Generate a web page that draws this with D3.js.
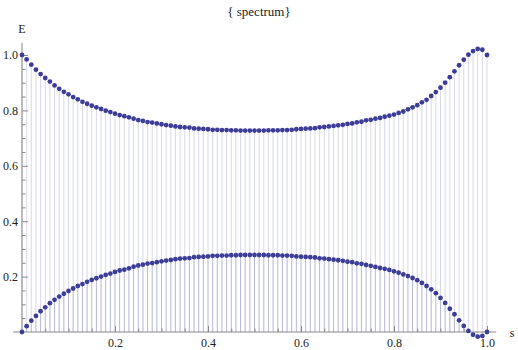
<!DOCTYPE html>
<html>
<head>
<meta charset="utf-8">
<script src="https://cdn.jsdelivr.net/npm/d3@7"></script>
<style>
  body { margin: 0; background: #fff; }
  svg { display: block; }
  text { font-family: "Liberation Serif", "Times New Roman", "DejaVu Serif", serif; }
  .tick text { font-size: 12px; fill: #222; }
  .tick line { stroke: #888; }
</style>
</head>
<body>
<script>
// s values: 0, 0.01, ..., 1.00
const sValues = d3.range(101).map(i => i / 100);

const lowerE = [
  0.000, 0.021, 0.041, 0.058, 0.075, 0.089, 0.104, 0.116, 0.128, 0.138,
  0.148, 0.157, 0.166, 0.173, 0.181, 0.188, 0.194, 0.200, 0.206, 0.211,
  0.217, 0.222, 0.225, 0.230, 0.236, 0.240, 0.243, 0.247, 0.249, 0.252,
  0.255, 0.258, 0.260, 0.263, 0.265, 0.266, 0.267, 0.270, 0.271, 0.272,
  0.273, 0.275, 0.275, 0.276, 0.276, 0.277, 0.277, 0.278, 0.278, 0.278,
  0.278, 0.278, 0.278, 0.277, 0.277, 0.277, 0.276, 0.276, 0.275, 0.273,
  0.272, 0.271, 0.270, 0.269, 0.266, 0.265, 0.263, 0.261, 0.259, 0.257,
  0.254, 0.252, 0.248, 0.246, 0.242, 0.239, 0.235, 0.231, 0.228, 0.224,
  0.219, 0.214, 0.208, 0.202, 0.195, 0.187, 0.177, 0.166, 0.154, 0.140,
  0.123, 0.105, 0.084, 0.064, 0.042, 0.022, 0.004, -0.010, -0.017, -0.014,
  0.000
];

const upperE = [
  1.000, 0.984, 0.965, 0.947, 0.931, 0.917, 0.904, 0.890, 0.878, 0.867,
  0.858, 0.848, 0.840, 0.831, 0.824, 0.817, 0.811, 0.805, 0.799, 0.794,
  0.788, 0.783, 0.779, 0.775, 0.770, 0.765, 0.762, 0.758, 0.756, 0.753,
  0.750, 0.747, 0.745, 0.742, 0.740, 0.739, 0.738, 0.735, 0.734, 0.733,
  0.732, 0.730, 0.730, 0.729, 0.729, 0.728, 0.728, 0.727, 0.727, 0.727,
  0.727, 0.727, 0.727, 0.728, 0.728, 0.728, 0.729, 0.729, 0.730, 0.732,
  0.733, 0.734, 0.735, 0.736, 0.739, 0.740, 0.742, 0.744, 0.746, 0.748,
  0.751, 0.753, 0.757, 0.759, 0.764, 0.766, 0.770, 0.773, 0.777, 0.781,
  0.785, 0.791, 0.796, 0.804, 0.811, 0.819, 0.829, 0.838, 0.852, 0.866,
  0.882, 0.900, 0.920, 0.941, 0.963, 0.983, 1.001, 1.014, 1.022, 1.019,
  1.000
];

const majorTicks = [0.2, 0.4, 0.6, 0.8, 1.0];
const minorTicks = d3.range(1, 21).map(i => i * 0.05).filter(v => Math.abs(v * 5 - Math.round(v * 5)) > 1e-6);

const width = 518, height = 350;
const dotColor = "#3d3d99";
const serif = "'Liberation Serif', 'Times New Roman', serif";

const svg = d3.select("body").append("svg")
  .attr("width", width)
  .attr("height", height);

const x = d3.scaleLinear().domain([0, 1]).range([22, 487]);
const y = d3.scaleLinear().domain([0, 1]).range([332, 55]);

const series = [upperE, lowerE];

// filling to axis
series.forEach(vals => {
  svg.append("g")
    .selectAll("line")
    .data(vals)
    .enter()
    .append("line")
    .attr("x1", (d, i) => x(sValues[i]))
    .attr("x2", (d, i) => x(sValues[i]))
    .attr("y1", y(0))
    .attr("y2", d => y(d))
    .attr("stroke", dotColor)
    .attr("stroke-opacity", 0.2)
    .attr("stroke-width", 1);
});

// axes
const axisColor = "#888";
svg.append("line")
  .attr("x1", x(-0.019)).attr("x2", x(1.02))
  .attr("y1", y(0)).attr("y2", y(0))
  .attr("stroke", axisColor);
svg.append("line")
  .attr("x1", x(0)).attr("x2", x(0))
  .attr("y1", y(0)).attr("y2", y(1.044))
  .attr("stroke", axisColor);

function styleAxis(g) {
  g.attr("font-family", serif);
  g.select(".domain").remove();
}

svg.append("g")
  .attr("transform", `translate(0,${y(0)})`)
  .call(d3.axisBottom(x).tickValues(majorTicks).tickSizeInner(-6).tickSizeOuter(0)
    .tickPadding(6).tickFormat(d3.format(".1f")))
  .call(styleAxis);

svg.append("g")
  .attr("transform", `translate(0,${y(0)})`)
  .call(d3.axisBottom(x).tickValues(minorTicks).tickSizeInner(-3.5).tickSizeOuter(0).tickFormat(""))
  .call(styleAxis);

svg.append("g")
  .attr("transform", `translate(${x(0)},0)`)
  .call(d3.axisLeft(y).tickValues(majorTicks).tickSizeInner(-6).tickSizeOuter(0)
    .tickPadding(4).tickFormat(d3.format(".1f")))
  .call(styleAxis);

svg.append("g")
  .attr("transform", `translate(${x(0)},0)`)
  .call(d3.axisLeft(y).tickValues(minorTicks).tickSizeInner(-3.5).tickSizeOuter(0).tickFormat(""))
  .call(styleAxis);

// points
series.forEach(vals => {
  svg.append("g")
    .selectAll("circle")
    .data(vals)
    .enter()
    .append("circle")
    .attr("cx", (d, i) => x(sValues[i]))
    .attr("cy", d => y(d))
    .attr("r", 2.4)
    .attr("fill", dotColor);
});

// labels
svg.append("text")
  .attr("x", width / 2)
  .attr("y", 16)
  .attr("text-anchor", "middle")
  .attr("font-family", serif)
  .attr("font-size", 13)
  .attr("fill", "#222")
  .text("{ spectrum}");

svg.append("text")
  .attr("x", 22)
  .attr("y", 33)
  .attr("text-anchor", "middle")
  .attr("font-family", serif)
  .attr("font-size", 12)
  .attr("fill", "#222")
  .text("E");

svg.append("text")
  .attr("x", 512)
  .attr("y", 337)
  .attr("text-anchor", "middle")
  .attr("font-family", serif)
  .attr("font-size", 12)
  .attr("fill", "#222")
  .text("s");
</script>
</body>
</html>
